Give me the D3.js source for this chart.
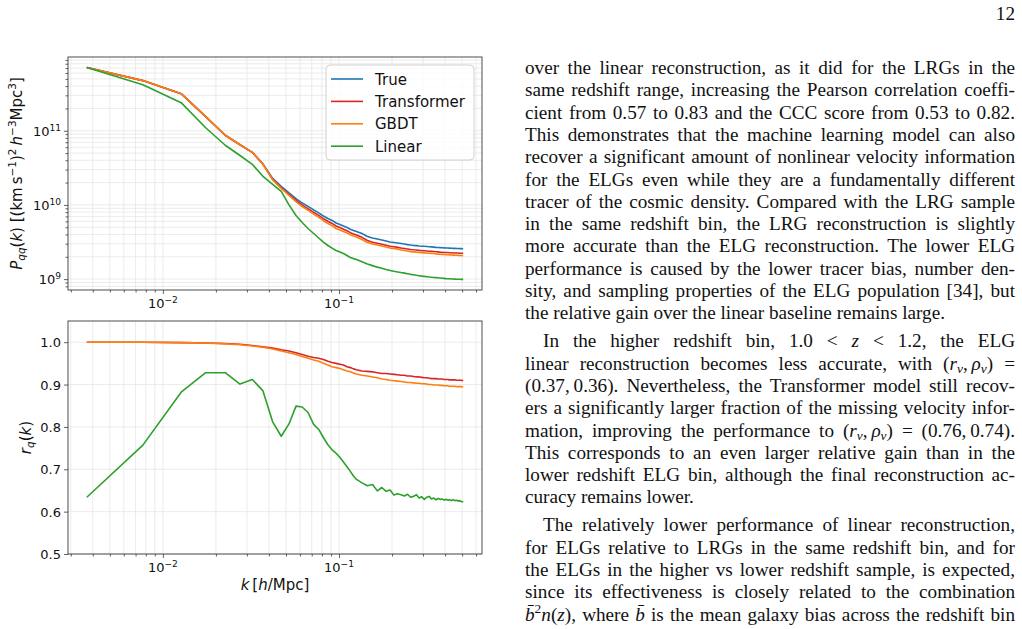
<!DOCTYPE html>
<html>
<head>
<meta charset="utf-8">
<script src="https://cdn.jsdelivr.net/npm/d3@7"></script>
<style>
body { margin: 0; background: #fff; }
svg { display: block; }
</style>
</head>
<body>
<div id="entry"></div>
<script>
// k bins [h/Mpc]
const kValues = [0.0037, 0.0077, 0.0127, 0.0175, 0.0226, 0.0274, 0.0322, 0.0370, 0.0420, 0.0470,
  0.0520, 0.0570, 0.0618, 0.0667, 0.0718, 0.0767, 0.0815, 0.0865, 0.0913, 0.0962,
  0.1012, 0.1060, 0.1110, 0.1160, 0.1208, 0.1257, 0.135, 0.145, 0.155, 0.165,
  0.175, 0.185, 0.195, 0.205, 0.215, 0.225, 0.235, 0.245, 0.255, 0.265,
  0.275, 0.285, 0.295, 0.305, 0.315, 0.325, 0.335, 0.345, 0.355, 0.365,
  0.375, 0.385, 0.395, 0.405, 0.415, 0.425, 0.435, 0.445, 0.455, 0.465,
  0.475, 0.485, 0.495, 0.507];

// P_qq(k) in units of 1e10 (km/s)^2 h^-3 Mpc^3
const pTrue = [71.0, 47.4, 31.6, 15.5, 8.69, 6.47, 5.12, 3.58, 2.28, 1.78,
  1.45, 1.22, 1.06, 0.955, 0.856, 0.780, 0.710, 0.657, 0.618, 0.571,
  0.545, 0.520, 0.497, 0.470, 0.452, 0.438, 0.412, 0.375, 0.358, 0.347,
  0.336, 0.326, 0.316, 0.311, 0.306, 0.302, 0.297, 0.292, 0.288, 0.285,
  0.283, 0.280, 0.278, 0.277, 0.275, 0.273, 0.272, 0.270, 0.268, 0.267,
  0.266, 0.265, 0.264, 0.263, 0.263, 0.262, 0.261, 0.260, 0.260, 0.259,
  0.259, 0.258, 0.258, 0.257];
const pTransformer = [71.0, 47.4, 31.6, 15.5, 8.69, 6.47, 5.12, 3.54, 2.21, 1.714,
  1.383, 1.154, 0.996, 0.892, 0.794, 0.722, 0.652, 0.602, 0.563, 0.520,
  0.495, 0.471, 0.448, 0.423, 0.405, 0.392, 0.366, 0.331, 0.314, 0.304,
  0.295, 0.286, 0.277, 0.273, 0.268, 0.263, 0.259, 0.255, 0.251, 0.2485,
  0.2468, 0.2442, 0.2424, 0.2415, 0.2398, 0.238, 0.2372, 0.2354, 0.2337, 0.2328,
  0.2306, 0.2298, 0.2289, 0.228, 0.228, 0.2272, 0.2263, 0.2254, 0.2254, 0.2246,
  0.2246, 0.2237, 0.2237, 0.2228];
const pGbdt = [71.0, 47.4, 31.6, 15.5, 8.69, 6.47, 5.12, 3.53, 2.175, 1.673,
  1.341, 1.111, 0.951, 0.849, 0.753, 0.680, 0.613, 0.562, 0.526, 0.481,
  0.459, 0.438, 0.419, 0.396, 0.381, 0.369, 0.342, 0.311, 0.297, 0.288,
  0.279, 0.271, 0.262, 0.258, 0.254, 0.247, 0.243, 0.239, 0.235, 0.233,
  0.231, 0.229, 0.227, 0.226, 0.225, 0.223, 0.222, 0.221, 0.2185, 0.2175,
  0.2165, 0.2155, 0.2145, 0.2137, 0.213, 0.2122, 0.2115, 0.2108, 0.2102, 0.2095,
  0.209, 0.2083, 0.2077, 0.207];
const pLinear = [71.0, 41.8, 23.9, 10.98, 6.37, 4.64, 3.53, 2.43, 1.89, 1.52,
  1.00, 0.721, 0.580, 0.481, 0.412, 0.358, 0.316, 0.284, 0.262, 0.243,
  0.232, 0.221, 0.208, 0.196, 0.189, 0.184, 0.172, 0.160, 0.152, 0.145,
  0.140, 0.135, 0.131, 0.1275, 0.125, 0.1225, 0.1205, 0.1183, 0.116, 0.1143,
  0.1125, 0.1111, 0.1098, 0.1088, 0.1077, 0.1067, 0.1061, 0.1054, 0.1047, 0.1041,
  0.1035, 0.1028, 0.1022, 0.1016, 0.1013, 0.1010, 0.1006, 0.1003, 0.1000, 0.0998,
  0.0997, 0.0994, 0.0992, 0.0991];

// r_q(k)
const rTransformer = [1.000, 1.000, 0.999, 0.998, 0.997, 0.995, 0.992, 0.989, 0.986, 0.982,
  0.979, 0.975, 0.971, 0.967, 0.964, 0.962, 0.959, 0.955, 0.952, 0.950,
  0.948, 0.946, 0.942, 0.940, 0.937, 0.935, 0.932, 0.931, 0.930, 0.928,
  0.926, 0.926, 0.925, 0.924, 0.923, 0.922, 0.922, 0.920, 0.920, 0.919,
  0.918, 0.918, 0.917, 0.916, 0.916, 0.915, 0.914, 0.914, 0.914, 0.913,
  0.913, 0.913, 0.912, 0.912, 0.912, 0.911, 0.911, 0.911, 0.911, 0.910,
  0.910, 0.910, 0.910, 0.909];
const rGbdt = [1.000, 1.000, 0.999, 0.998, 0.996, 0.994, 0.991, 0.988, 0.984, 0.979,
  0.975, 0.971, 0.966, 0.962, 0.958, 0.955, 0.950, 0.946, 0.942, 0.940,
  0.938, 0.935, 0.932, 0.930, 0.927, 0.925, 0.922, 0.920, 0.918, 0.916,
  0.913, 0.912, 0.910, 0.909, 0.908, 0.907, 0.906, 0.905, 0.905, 0.904,
  0.903, 0.903, 0.902, 0.902, 0.901, 0.900, 0.900, 0.899, 0.899, 0.899,
  0.898, 0.898, 0.897, 0.897, 0.897, 0.896, 0.896, 0.896, 0.896, 0.895,
  0.895, 0.895, 0.895, 0.894];
const rLinear = [0.634, 0.757, 0.882, 0.928, 0.928, 0.901, 0.912, 0.885, 0.812, 0.778,
  0.807, 0.849, 0.847, 0.834, 0.806, 0.794, 0.775, 0.758, 0.746, 0.738,
  0.728, 0.717, 0.706, 0.695, 0.684, 0.676, 0.668, 0.661, 0.664, 0.649,
  0.657, 0.648, 0.651, 0.639, 0.642, 0.640, 0.637, 0.641, 0.634, 0.636,
  0.640, 0.632, 0.635, 0.629, 0.634, 0.636, 0.630, 0.632, 0.628, 0.631,
  0.629, 0.630, 0.627, 0.629, 0.627, 0.628, 0.626, 0.628, 0.626, 0.627,
  0.625, 0.626, 0.624, 0.623];

const seriesNames = ['True', 'Transformer', 'GBDT', 'Linear'];
const seriesColors = ['#1f77b4', '#d62728', '#ff7f0e', '#2ca02c'];
const kMajorTicks = [0.01, 0.1];
const pMajorTicks = [1e9, 1e10, 1e11];
const rTicks = [0.5, 0.6, 0.7, 0.8, 0.9, 1.0];

// [line, indented, justified]
const bodyLines = [
  ['over the linear reconstruction, as it did for the LRGs in the', 0, 1],
  ['same redshift range, increasing the Pearson correlation coeffi-', 0, 1],
  ['cient from 0.57 to 0.83 and the CCC score from 0.53 to 0.82.', 0, 1],
  ['This demonstrates that the machine learning model can also', 0, 1],
  ['recover a significant amount of nonlinear velocity information', 0, 1],
  ['for the ELGs even while they are a fundamentally different', 0, 1],
  ['tracer of the cosmic density. Compared with the LRG sample', 0, 1],
  ['in the same redshift bin, the LRG reconstruction is slightly', 0, 1],
  ['more accurate than the ELG reconstruction. The lower ELG', 0, 1],
  ['performance is caused by the lower tracer bias, number den-', 0, 1],
  ['sity, and sampling properties of the ELG population [34], but', 0, 1],
  ['the relative gain over the linear baseline remains large.', 0, 0],
  ['In the higher redshift bin, 1.0 < *z* < 1.2, the ELG', 1, 1],
  ['linear reconstruction becomes less accurate, with (*r*_{v},\u2009*\u03c1*_{v}) =', 0, 1],
  ['(0.37,\u20090.36). Nevertheless, the Transformer model still recov-', 0, 1],
  ['ers a significantly larger fraction of the missing velocity infor-', 0, 1],
  ['mation, improving the performance to (*r*_{v},\u2009*\u03c1*_{v}) = (0.76,\u20090.74).', 0, 1],
  ['This corresponds to an even larger relative gain than in the', 0, 1],
  ['lower redshift ELG bin, although the final reconstruction ac-', 0, 1],
  ['curacy remains lower.', 0, 0],
  ['The relatively lower performance of linear reconstruction,', 1, 1],
  ['for ELGs relative to LRGs in the same redshift bin, and for', 0, 1],
  ['the ELGs in the higher vs lower redshift sample, is expected,', 0, 1],
  ['since its effectiveness is closely related to the combination', 0, 1],
  ['*b\u0304*^{2}*n*(*z*), where *b\u0304* is the mean galaxy bias across the redshift bin', 0, 1]
];

const W = 1022, H = 629;
const plotLeft = 68, plotRight = 482;
const topPanel = {top: 57, bottom: 290};
const botPanel = {top: 321, bottom: 554};
const sans = 'DejaVu Sans';
const lineWidth = 1.6;

const svg = d3.select('#entry').append('svg')
  .attr('width', W).attr('height', H)
  .style('background', '#fff');

function logPad(lo, hi) {
  const a = Math.log10(lo), b = Math.log10(hi), m = (b - a) * 0.05;
  return [Math.pow(10, a - m), Math.pow(10, b + m)];
}

const x = d3.scaleLog().domain(logPad(d3.min(kValues), d3.max(kValues))).range([plotLeft, plotRight]);
const allP = [].concat(pTrue, pTransformer, pGbdt, pLinear).map(v => v * 1e10);
const yP = d3.scaleLog().domain(logPad(d3.min(allP), d3.max(allP))).range([topPanel.bottom, topPanel.top]);
const yR = d3.scaleLinear().domain([0.5, 1.05]).range([botPanel.bottom, botPanel.top]);

// tiny markup: *it*, _{italic sub}, ^{sup}
function parseMarkup(str) {
  return str.split(/(\*[^*]+\*|_\{[^}]*\}|\^\{[^}]*\})/).filter(s => s.length).map(s => {
    if (s[0] === '*') return {t: s.slice(1, -1), k: 'i'};
    if (s[0] === '_' && s[1] === '{') return {t: s.slice(2, -1), k: 'isub'};
    if (s[0] === '^' && s[1] === '{') return {t: s.slice(2, -1), k: 'sup'};
    return {t: s, k: 'n'};
  });
}

function richText(textSel, str, size) {
  let shift = 0;
  parseMarkup(str).forEach(s => {
    const ts = textSel.append('tspan').text(s.t);
    let target = 0, fs = size;
    if (s.k === 'sup') { target = -size * 0.4; fs = size * 0.7; }
    if (s.k === 'isub') { target = size * 0.2; fs = size * 0.7; }
    ts.attr('font-size', fs);
    if (s.k === 'i' || s.k === 'isub') ts.attr('font-style', 'italic');
    if (target !== shift) { ts.attr('dy', target - shift); shift = target; }
  });
  return textSel;
}

function powerLabel(v) {
  const e = Math.round(Math.log10(v));
  return '10^{' + (e < 0 ? '\u2212' + (-e) : e) + '}';
}

function drawPanel(panel, y, yGridTicks) {
  const g = svg.append('g');
  const grid = g.append('g').attr('stroke', '#e6e6e6').attr('stroke-width', 0.8);
  grid.selectAll('line.vx').data(x.ticks()).enter().append('line')
    .attr('x1', d => x(d)).attr('x2', d => x(d))
    .attr('y1', panel.top).attr('y2', panel.bottom);
  grid.selectAll('line.hy').data(yGridTicks).enter().append('line')
    .attr('x1', plotLeft).attr('x2', plotRight)
    .attr('y1', d => y(d)).attr('y2', d => y(d));
  return g;
}

function drawFrame(panel) {
  svg.append('rect')
    .attr('x', plotLeft).attr('y', panel.top)
    .attr('width', plotRight - plotLeft).attr('height', panel.bottom - panel.top)
    .attr('fill', 'none').attr('stroke', '#3a3a3a').attr('stroke-width', 0.9);
}

function drawXAxis(panel) {
  const minor = x.ticks().filter(t => !kMajorTicks.some(m => Math.abs(m - t) < 1e-9));
  const ax = svg.append('g').attr('transform', `translate(0,${panel.bottom})`);
  ax.call(d3.axisBottom(x).tickValues(minor).tickSize(2.5).tickFormat(''));
  ax.call(g => g.select('.domain').remove());
  const axMaj = svg.append('g').attr('transform', `translate(0,${panel.bottom})`);
  axMaj.call(d3.axisBottom(x).tickValues(kMajorTicks).tickSize(4).tickFormat(''));
  axMaj.call(g => g.select('.domain').remove());
  svg.selectAll('.tick line').attr('stroke', '#3a3a3a').attr('stroke-width', 0.8);
  kMajorTicks.forEach(t => {
    richText(svg.append('text')
      .attr('x', x(t)).attr('y', panel.bottom + 18)
      .attr('text-anchor', 'middle').attr('font-family', sans).attr('fill', '#111'), powerLabel(t), 13);
  });
}

// ---- top panel: P_qq(k)
drawPanel(topPanel, yP, yP.ticks());
const pSeries = [pTrue, pTransformer, pGbdt, pLinear];
const lineP = d3.line().x((d, i) => x(kValues[i])).y(d => yP(d * 1e10));
svg.append('g').selectAll('path').data(pSeries).enter().append('path')
  .attr('d', d => lineP(d))
  .attr('fill', 'none')
  .attr('stroke', (d, i) => seriesColors[i])
  .attr('stroke-width', lineWidth)
  .attr('stroke-linejoin', 'round');
drawFrame(topPanel);
drawXAxis(topPanel);

const pMinor = yP.ticks().filter(t => !pMajorTicks.includes(t));
svg.append('g').attr('transform', `translate(${plotLeft},0)`)
  .call(d3.axisLeft(yP).tickValues(pMinor).tickSize(2.5).tickFormat(''))
  .call(g => g.select('.domain').remove());
svg.append('g').attr('transform', `translate(${plotLeft},0)`)
  .call(d3.axisLeft(yP).tickValues(pMajorTicks).tickSize(4).tickFormat(''))
  .call(g => g.select('.domain').remove());
pMajorTicks.forEach(t => {
  richText(svg.append('text')
    .attr('x', plotLeft - 7).attr('y', yP(t) + 5)
    .attr('text-anchor', 'end').attr('font-family', sans).attr('fill', '#111'), powerLabel(t), 13);
});
richText(svg.append('text')
  .attr('transform', `translate(22,${(topPanel.top + topPanel.bottom) / 2}) rotate(-90)`)
  .attr('text-anchor', 'middle').attr('font-family', sans).attr('fill', '#111'),
  '*P*_{qq}(*k*) [(km\u2009s^{\u22121})^{2}\u2009*h*^{\u22123}Mpc^{3}]', 15);

// legend
const legend = svg.append('g').attr('transform', `translate(${plotRight - 156},${topPanel.top + 8})`);
legend.append('rect')
  .attr('width', 148).attr('height', 95).attr('rx', 4)
  .attr('fill', '#fff').attr('fill-opacity', 0.8)
  .attr('stroke', '#cccccc').attr('stroke-width', 0.9);
const rows = legend.selectAll('g.row').data(seriesNames).enter().append('g')
  .attr('transform', (d, i) => `translate(0,${14 + i * 22.4})`);
rows.append('line').attr('x1', 5).attr('x2', 37)
  .attr('stroke', (d, i) => seriesColors[i]).attr('stroke-width', lineWidth);
rows.append('text').attr('x', 49).attr('y', 5.5)
  .attr('font-family', sans).attr('font-size', 15).attr('fill', '#111')
  .text(d => d);

// ---- bottom panel: r_q(k)
drawPanel(botPanel, yR, rTicks);
const rSeries = [
  {v: rTransformer, c: seriesColors[1]},
  {v: rGbdt, c: seriesColors[2]},
  {v: rLinear, c: seriesColors[3]}
];
const lineR = d3.line().x((d, i) => x(kValues[i])).y(d => yR(d));
svg.append('g').selectAll('path').data(rSeries).enter().append('path')
  .attr('d', d => lineR(d.v))
  .attr('fill', 'none')
  .attr('stroke', d => d.c)
  .attr('stroke-width', lineWidth)
  .attr('stroke-linejoin', 'round');
drawFrame(botPanel);
drawXAxis(botPanel);

svg.append('g').attr('transform', `translate(${plotLeft},0)`)
  .call(d3.axisLeft(yR).tickValues(rTicks).tickSize(4).tickFormat(''))
  .call(g => g.select('.domain').remove());
svg.selectAll('.tick line').attr('stroke', '#3a3a3a').attr('stroke-width', 0.8);
rTicks.forEach(t => {
  svg.append('text')
    .attr('x', plotLeft - 7).attr('y', yR(t) + 5)
    .attr('text-anchor', 'end').attr('font-family', sans).attr('font-size', 13).attr('fill', '#111')
    .text(d3.format('.1f')(t));
});
richText(svg.append('text')
  .attr('transform', `translate(31,${(botPanel.top + botPanel.bottom) / 2}) rotate(-90)`)
  .attr('text-anchor', 'middle').attr('font-family', sans).attr('fill', '#111'),
  '*r*_{q}(*k*)', 15);
richText(svg.append('text')
  .attr('x', (plotLeft + plotRight) / 2).attr('y', 590)
  .attr('text-anchor', 'middle').attr('font-family', sans).attr('fill', '#111'),
  '*k*\u2009[*h*/Mpc]', 15);

// ---- text column
const colLeft = 525, colRight = 1015, indent = 18, bodySize = 19.2;
const baselines = [];
let yb = 74;
bodyLines.forEach((ln, i) => {
  if (i === 12 || i === 20) yb += 5.7;
  baselines.push(yb);
  yb += 22.3;
});
bodyLines.forEach((ln, i) => {
  const x0 = colLeft + (ln[1] ? indent : 0);
  const t = svg.append('text')
    .attr('x', x0).attr('y', baselines[i])
    .attr('font-family', 'Liberation Serif').attr('fill', '#111');
  richText(t, ln[0], bodySize);
  if (ln[2]) {
    const natural = t.node().getComputedTextLength();
    const spaces = (ln[0].match(/ /g) || []).length;
    if (spaces) t.attr('word-spacing', (colRight - x0 - natural) / spaces);
  }
});

svg.append('text')
  .attr('x', colRight).attr('y', 20)
  .attr('text-anchor', 'end').attr('font-family', 'Liberation Serif')
  .attr('font-size', 19.2).attr('fill', '#111')
  .text('12');
</script>
</body>
</html>
